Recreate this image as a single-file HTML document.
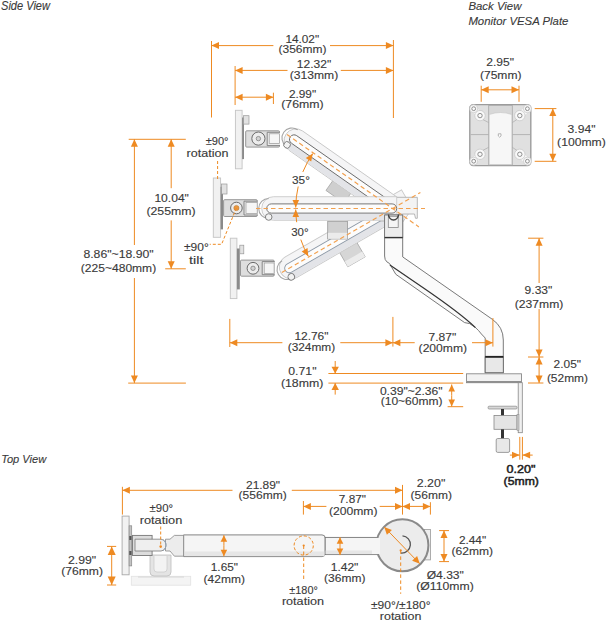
<!DOCTYPE html>
<html><head><meta charset="utf-8"><style>
html,body{margin:0;padding:0;background:#fff;}
svg{display:block;}
text{font-family:"Liberation Sans",sans-serif;}
</style></head><body>
<svg width="606" height="621" viewBox="0 0 606 621">
<rect width="606" height="621" fill="#fff"/>
<g transform="translate(339,191) rotate(35)"><rect x="-11" y="-7" width="22" height="14" fill="#cfcfcf" stroke="#aaa" stroke-width="0.8"/></g>
<g transform="translate(352,254) rotate(-30)"><rect x="-10" y="-9" width="20" height="18" fill="#d6d6d6" stroke="#aaa" stroke-width="0.8"/><rect x="-10" y="3" width="20" height="6" fill="#ececec" stroke="none"/></g>
<g transform="translate(392.7,208.5) rotate(-30)">
<path d="M-117.2,-11.8 L17,-11.8 L17,11.8 L-117.2,11.8 A11.8,11.8 0 0 1 -117.2,-11.8 Z" fill="#f5f5f6" stroke="#c9c9c9" stroke-width="0.9"/>
<rect x="-121" y="5" width="131" height="6.4" fill="#e3e4e8" stroke="none"/>
<path d="M-122,-10 A10,10 0 0 0 -122,10" fill="none" stroke="#a5a5a5" stroke-width="1.1"/>
<circle cx="-122" cy="8.5" r="3.3" fill="#f2f2f2" stroke="#777" stroke-width="0.9"/>
<rect x="-124" y="-4.6" width="128" height="9.2" rx="4.6" fill="#fcfcfc" stroke="#8c98a6" stroke-width="0.9"/>

</g>
<g transform="translate(392.7,208.5) rotate(35)">
<path d="M-118.2,-11.8 L16,-11.8 L16,11.8 L-118.2,11.8 A11.8,11.8 0 0 1 -118.2,-11.8 Z" fill="#f5f5f6" stroke="#c9c9c9" stroke-width="0.9"/>
<rect x="-122" y="5" width="132" height="6.4" fill="#e3e4e8" stroke="none"/>
<path d="M-123,-10 A10,10 0 0 0 -123,10" fill="none" stroke="#a5a5a5" stroke-width="1.1"/>
<circle cx="-123" cy="8.5" r="3.3" fill="#f2f2f2" stroke="#777" stroke-width="0.9"/>
<rect x="-125" y="-4.6" width="129" height="9.2" rx="4.6" fill="#fcfcfc" stroke="#6a6a6a" stroke-width="0.9"/>

</g>
<path d="M380,197.3 L417.3,197.3 L417.3,218.3 L415.5,218.3 L414.5,214 L398,214 L396,221 L380,221 Z" fill="#f3f3f3" stroke="#b0b0b0" stroke-width="0.9"/>
<g transform="translate(392.7,208.5) rotate(0)">
<path d="M-119.2,-11.8 L4,-11.8 L4,11.8 L-119.2,11.8 A11.8,11.8 0 0 1 -119.2,-11.8 Z" fill="#f5f5f6" stroke="#c9c9c9" stroke-width="0.9"/>
<rect x="-123" y="5" width="133" height="6.4" fill="#e3e4e8" stroke="none"/>
<path d="M-124,-10 A10,10 0 0 0 -124,10" fill="none" stroke="#a5a5a5" stroke-width="1.1"/>
<circle cx="-124" cy="8.5" r="3.3" fill="#f2f2f2" stroke="#777" stroke-width="0.9"/>
<rect x="-126" y="-4.6" width="130" height="9.2" rx="4.6" fill="#fcfcfc" stroke="#6a6a6a" stroke-width="0.9"/>

</g>
<rect x="327.7" y="221.3" width="19.8" height="17.7" fill="#d0d0d0" stroke="#999" stroke-width="0.8"/><rect x="328" y="232.8" width="19.2" height="6" fill="#ebebeb"/>
<path d="M384.6,215 L402.7,215 L402.7,256.9 L492.3,319.3 Q503.3,327 503.3,340 L503.3,372.7 L485.2,372.7 L485.2,338 L481.4,334 L478.5,330.5 L475.5,327.6 L469.6,323.6 L464.6,322.6 L395.8,274.3 L389.4,263.4 L386.9,261.9 Q384.6,260 384.6,256 Z" fill="#fafafa" stroke="#6a6a6a" stroke-width="0.9"/>
<path d="M389.9,264.9 L425,289 Q460,313 475.5,327.6" fill="none" stroke="#333" stroke-width="1.2"/>
<rect x="384.6" y="215" width="18.1" height="22.4" fill="#ececec" stroke="#777" stroke-width="0.9"/>
<rect x="388.3" y="216.3" width="9.9" height="11.2" fill="#f5f5f5" stroke="#888" stroke-width="0.8"/>
<line x1="384.6" y1="237.6" x2="402.7" y2="237.6" stroke="#333" stroke-width="1.4"/>
<path d="M388.5,214.5 A5,5.5 0 0 0 398.5,214.5" fill="none" stroke="#444" stroke-width="1.4"/>
<rect x="485.2" y="357" width="18.1" height="15.7" fill="#e8e8e8" stroke="#6a6a6a" stroke-width="0.9"/>
<line x1="485.2" y1="356.8" x2="503.3" y2="356.8" stroke="#222" stroke-width="1.8"/>
<rect x="466.5" y="373.8" width="55" height="8.9" fill="#f2f2f2" stroke="#888" stroke-width="0.9"/>
<line x1="467" y1="381.8" x2="521" y2="381.8" stroke="#666" stroke-width="1"/>
<rect x="518.2" y="382.7" width="4.1" height="50" fill="#f0f0f0" stroke="#888" stroke-width="0.8"/>
<rect x="488.1" y="406.2" width="28.9" height="2.8" rx="1" fill="#d8d8d8" stroke="#888" stroke-width="0.7"/>
<rect x="501" y="409" width="3" height="7" fill="#333"/>
<rect x="494" y="415.4" width="23" height="13.9" fill="#e4e4e4" stroke="#888" stroke-width="0.8"/>
<rect x="517" y="414.5" width="2" height="16" fill="#ccc" stroke="#888" stroke-width="0.5"/>
<rect x="501" y="429.3" width="3" height="9.5" fill="#333"/>
<rect x="496.2" y="438.5" width="13.4" height="13.9" rx="1.5" fill="#e8e8e8" stroke="#888" stroke-width="0.8"/>
<rect x="235.4" y="110.3" width="6.699999999999989" height="58.500000000000014" fill="#f1f1f1" stroke="#c4c4c4" stroke-width="0.9"/>
<rect x="242.1" y="117.5" width="1.9000000000000057" height="41.599999999999994" fill="#8a8a8a" stroke="none"/>
<rect x="243.5" y="115.7" width="5.5" height="8.399999999999991" fill="#e2e2e2" stroke="#999" stroke-width="0.7"/>
<rect x="245.7" y="130.8" width="33.80000000000001" height="16.299999999999983" rx="1" fill="#dedede" stroke="#8c8c8c" stroke-width="0.9"/>
<path d="M280.0,132.3 L267.2,132.3 L267.2,145.6 L280.0,145.6" fill="#ececec" stroke="#7a7a7a" stroke-width="0.9"/>
<rect x="269.2" y="133.8" width="10.300000000000011" height="9.599999999999994" fill="#f6f6f6" stroke="#9a9a9a" stroke-width="0.7"/>
<circle cx="258.4" cy="138.6" r="6.6" fill="#ececec" stroke="#6a6a6a" stroke-width="1"/>
<circle cx="258.4" cy="138.6" r="2.2" fill="#d2d2d2" stroke="#666" stroke-width="0.6"/>
<rect x="213.3" y="178" width="7.299999999999983" height="59.30000000000001" fill="#f1f1f1" stroke="#c4c4c4" stroke-width="0.9"/>
<rect x="220.6" y="186.8" width="2.4000000000000057" height="42.599999999999994" fill="#8a8a8a" stroke="none"/>
<rect x="221.5" y="184" width="5.5" height="10" fill="#e2e2e2" stroke="#999" stroke-width="0.7"/>
<rect x="223.6" y="199.7" width="33.599999999999994" height="16.80000000000001" rx="1" fill="#dedede" stroke="#8c8c8c" stroke-width="0.9"/>
<path d="M257.7,201.2 L244,201.2 L244,215.0 L257.7,215.0" fill="#ececec" stroke="#7a7a7a" stroke-width="0.9"/>
<rect x="246" y="202.5" width="11.199999999999989" height="11.0" fill="#f6f6f6" stroke="#9a9a9a" stroke-width="0.7"/>
<circle cx="236.4" cy="208" r="5.8" fill="#ececec" stroke="#6a6a6a" stroke-width="1"/>
<circle cx="236.4" cy="208" r="2.6" fill="#e9963e" stroke="#b87428" stroke-width="0.5"/>
<rect x="230.3" y="238.2" width="6.599999999999994" height="60.400000000000034" fill="#f1f1f1" stroke="#c4c4c4" stroke-width="0.9"/>
<rect x="236.9" y="248.5" width="2.9000000000000057" height="40.89999999999998" fill="#8a8a8a" stroke="none"/>
<rect x="239.8" y="245.2" width="4.0" height="8.600000000000023" fill="#e2e2e2" stroke="#999" stroke-width="0.7"/>
<rect x="240.5" y="260.1" width="33.60000000000002" height="16.099999999999966" rx="1" fill="#dedede" stroke="#8c8c8c" stroke-width="0.9"/>
<path d="M274.6,261.6 L262.2,261.6 L262.2,274.7 L274.6,274.7" fill="#ececec" stroke="#7a7a7a" stroke-width="0.9"/>
<rect x="264.2" y="263" width="9.900000000000034" height="10.600000000000023" fill="#f6f6f6" stroke="#9a9a9a" stroke-width="0.7"/>
<circle cx="253" cy="268.3" r="5.9" fill="#ececec" stroke="#6a6a6a" stroke-width="1"/>
<circle cx="253" cy="268.3" r="2.2" fill="#d2d2d2" stroke="#666" stroke-width="0.6"/>
<line x1="256" y1="208.5" x2="425" y2="208.5" stroke="#F2A04E" stroke-width="1.2" stroke-dasharray="4.5,3"/>
<line x1="287.0" y1="134.5" x2="418.9" y2="226.9" stroke="#F2A04E" stroke-width="1.2" stroke-dasharray="4.5,3"/>
<line x1="281.8" y1="272.5" x2="420.4" y2="192.5" stroke="#F2A04E" stroke-width="1.2" stroke-dasharray="4.5,3"/>
<polyline points="236.4,208 221.6,244.3 209.7,244.3" fill="none" stroke="#EE8A22" stroke-width="1" stroke-dasharray="3,2"/>
<line x1="217.6" y1="161" x2="217.6" y2="181" stroke="#EE8A22" stroke-width="1" stroke-dasharray="3,2"/>
<path d="M302.8,172.0 A97,97 0 0 1 312.8,153.6" fill="none" stroke="#EE8A22" stroke-width="1"/>
<polygon points="312.8,153.6 311.2,161.6 305.8,157.9" fill="#EE8A22"/>
<path d="M298.2,186.5 A97,97 0 0 0 295.7,207.5" fill="none" stroke="#EE8A22" stroke-width="1"/>
<polygon points="295.7,207.5 292.5,200.0 299.1,200.0" fill="#EE8A22"/>
<path d="M295.7,209.5 A97,97 0 0 0 296.7,222.2" fill="none" stroke="#EE8A22" stroke-width="1"/>
<polygon points="295.7,209.5 299.1,217.0 292.5,217.0" fill="#EE8A22"/>
<path d="M300.8,239.6 A97,97 0 0 0 308.3,256.3" fill="none" stroke="#EE8A22" stroke-width="1"/>
<polygon points="308.3,256.3 301.7,251.4 307.5,248.1" fill="#EE8A22"/>
<rect x="131.3" y="576.3" width="59.4" height="8.9" fill="#f4f4f4" stroke="#e2e2e2" stroke-width="0.8"/><line x1="138" y1="577" x2="184" y2="577" stroke="#d0d0d0" stroke-width="0.8"/>
<path d="M150,555 L150,572 Q150,576 154,576 L167,576 Q171,576 171,572 L171,555 Z" fill="#e4e4e4" stroke="#bdbdbd" stroke-width="0.8"/>
<path d="M154,556 L154,569 Q154,572 157,572 L164,572 Q167,572 167,569 L167,556" fill="#f3f3f3" stroke="#c8c8c8" stroke-width="0.7"/>
<rect x="122.1" y="516.1" width="7" height="58.7" fill="#f2f2f2" stroke="#a8a8a8" stroke-width="0.9"/>
<rect x="129.1" y="525.8" width="2.6" height="40.1" fill="#c4c4c4" stroke="#888" stroke-width="0.7"/>
<rect x="132.5" y="535.4" width="19.6" height="20.1" fill="#dcdcdc" stroke="#777" stroke-width="0.9"/><rect x="129.3" y="536" width="2.2" height="4" fill="#555"/><rect x="129.3" y="551" width="2.2" height="4" fill="#555"/>
<path d="M183.6,534.9 L322,534.9 Q325.2,534.9 325.2,538 L325.2,553.5 Q325.2,556.6 322,556.6 L183.6,556.6 Z" fill="#f5f5f5" stroke="#777" stroke-width="0.9"/>
<rect x="184.2" y="551.5" width="140.5" height="4.6" fill="#e6e6e6"/>
<path d="M165.5,539.2 L170,539.2 L174.4,535.4 L183.6,535.4 L183.6,556.2 L174.4,556.2 L170,551 L165.5,551 Z" fill="#ececec" stroke="#888" stroke-width="0.8"/>
<path d="M135,539.2 L161,539.2 A6,6 0 0 1 161,551 L135,551 Z" fill="#efefef" stroke="#7a7a7a" stroke-width="0.8"/><path d="M163,539.6 A6.5,6.5 0 0 1 163,550.6" fill="none" stroke="#8fa3b8" stroke-width="0.9"/>
<rect x="325.2" y="537.4" width="54" height="17.2" fill="#f5f5f5" stroke="#777" stroke-width="0.9"/>
<rect x="325.7" y="550.5" width="53" height="3.6" fill="#e6e6e6"/>
<rect x="424.3" y="529.5" width="6.1" height="30.4" fill="#eeeeee" stroke="#999" stroke-width="0.8"/>
<circle cx="402.4" cy="545.3" r="26" fill="#ececec" stroke="#8a8a8a" stroke-width="2"/>
<rect x="372" y="538" width="8" height="16" fill="#f5f5f5"/>
<path d="M402.5,535.8 A8.5,8.5 0 1 1 401,553" fill="none" stroke="#555" stroke-width="1.3"/>
<circle cx="303.7" cy="545.5" r="9.6" fill="none" stroke="#EE8A22" stroke-width="1" stroke-dasharray="3,2"/>
<line x1="303.7" y1="545.5" x2="303.7" y2="581.4" stroke="#EE8A22" stroke-width="1" stroke-dasharray="3.5,2.5"/>
<line x1="400.7" y1="550.4" x2="400.7" y2="593.8" stroke="#EE8A22" stroke-width="1" stroke-dasharray="3.5,2.5"/>
<line x1="160.7" y1="526.5" x2="160.7" y2="546.6" stroke="#EE8A22" stroke-width="1" stroke-dasharray="3,2"/>
<circle cx="160.7" cy="546.6" r="1.3" fill="#EE8A22"/>
<circle cx="303.7" cy="545.5" r="1.1" fill="#EE8A22"/>
<circle cx="400.7" cy="550.4" r="1.1" fill="#EE8A22"/>
<text x="1" y="10" font-size="12" textLength="49.0" lengthAdjust="spacingAndGlyphs" font-style="italic" fill="#3a3a3a" stroke="#3a3a3a" stroke-width="0.12">Side View</text>
<text x="468.4" y="9.6" font-size="11.5" textLength="53.0" lengthAdjust="spacingAndGlyphs" font-style="italic" fill="#3a3a3a" stroke="#3a3a3a" stroke-width="0.12">Back View</text>
<text x="468.4" y="24.8" font-size="11.5" textLength="100.0" lengthAdjust="spacingAndGlyphs" font-style="italic" fill="#3a3a3a" stroke="#3a3a3a" stroke-width="0.12">Monitor VESA Plate</text>
<text x="1.2" y="462.5" font-size="11.5" textLength="45.0" lengthAdjust="spacingAndGlyphs" font-style="italic" fill="#3a3a3a" stroke="#3a3a3a" stroke-width="0.12">Top View</text>
<line x1="211.5" y1="41" x2="211.5" y2="117.5" stroke="#EE8A22" stroke-width="1"/>
<line x1="273.4" y1="45.6" x2="211.5" y2="45.6" stroke="#EE8A22" stroke-width="1"/>
<polygon points="211.5,45.6 219.0,42.1 219.0,49.1" fill="#EE8A22"/>
<line x1="330" y1="45.6" x2="393.4" y2="45.6" stroke="#EE8A22" stroke-width="1"/>
<polygon points="393.4,45.6 385.9,49.1 385.9,42.1" fill="#EE8A22"/>
<line x1="393.4" y1="40" x2="393.4" y2="118" stroke="#EE8A22" stroke-width="1"/>
<line x1="235.1" y1="66" x2="235.1" y2="105" stroke="#EE8A22" stroke-width="1"/>
<line x1="287.5" y1="70.4" x2="235.1" y2="70.4" stroke="#EE8A22" stroke-width="1"/>
<polygon points="235.1,70.4 242.6,66.9 242.6,73.9" fill="#EE8A22"/>
<line x1="340.8" y1="70.4" x2="393.4" y2="70.4" stroke="#EE8A22" stroke-width="1"/>
<polygon points="393.4,70.4 385.9,73.9 385.9,66.9" fill="#EE8A22"/>
<line x1="235.1" y1="97.2" x2="273.4" y2="97.2" stroke="#EE8A22" stroke-width="1"/>
<polygon points="273.4,97.2 265.9,100.7 265.9,93.7" fill="#EE8A22"/>
<polygon points="235.1,97.2 242.6,93.7 242.6,100.7" fill="#EE8A22"/>
<line x1="273.4" y1="92.7" x2="273.4" y2="104" stroke="#EE8A22" stroke-width="1"/>
<text x="285.4" y="42.7" font-size="11" textLength="33.7" lengthAdjust="spacingAndGlyphs" fill="#3a3a3a" stroke="#3a3a3a" stroke-width="0.12">14.02"</text>
<text x="278.5" y="53" font-size="11" textLength="48.0" lengthAdjust="spacingAndGlyphs" fill="#3a3a3a" stroke="#3a3a3a" stroke-width="0.12">(356mm)</text>
<text x="296.8" y="68.2" font-size="11" textLength="34.4" lengthAdjust="spacingAndGlyphs" fill="#3a3a3a" stroke="#3a3a3a" stroke-width="0.12">12.32"</text>
<text x="289.7" y="78.9" font-size="11" textLength="48.5" lengthAdjust="spacingAndGlyphs" fill="#3a3a3a" stroke="#3a3a3a" stroke-width="0.12">(313mm)</text>
<text x="288.9" y="97.6" font-size="11" textLength="27.2" lengthAdjust="spacingAndGlyphs" fill="#3a3a3a" stroke="#3a3a3a" stroke-width="0.12">2.99"</text>
<text x="281.2" y="108.3" font-size="11" textLength="42.4" lengthAdjust="spacingAndGlyphs" fill="#3a3a3a" stroke="#3a3a3a" stroke-width="0.12">(76mm)</text>
<line x1="481.2" y1="85.7" x2="481.2" y2="101.8" stroke="#EE8A22" stroke-width="1"/>
<line x1="519" y1="85.7" x2="519" y2="101.8" stroke="#EE8A22" stroke-width="1"/>
<line x1="481.2" y1="89.8" x2="519" y2="89.8" stroke="#EE8A22" stroke-width="1"/>
<polygon points="519.0,89.8 511.5,93.3 511.5,86.3" fill="#EE8A22"/>
<polygon points="481.2,89.8 488.7,86.3 488.7,93.3" fill="#EE8A22"/>
<text x="486.3" y="65.8" font-size="11" textLength="27.7" lengthAdjust="spacingAndGlyphs" fill="#3a3a3a" stroke="#3a3a3a" stroke-width="0.12">2.95"</text>
<text x="479.9" y="78.7" font-size="11" textLength="41.6" lengthAdjust="spacingAndGlyphs" fill="#3a3a3a" stroke="#3a3a3a" stroke-width="0.12">(75mm)</text>
<line x1="534.7" y1="108.6" x2="556.4" y2="108.6" stroke="#EE8A22" stroke-width="1"/>
<line x1="534.7" y1="161.3" x2="556.4" y2="161.3" stroke="#EE8A22" stroke-width="1"/>
<line x1="552.8" y1="108.6" x2="552.8" y2="161.3" stroke="#EE8A22" stroke-width="1"/>
<polygon points="552.8,161.3 549.3,153.8 556.3,153.8" fill="#EE8A22"/>
<polygon points="552.8,108.6 556.3,116.1 549.3,116.1" fill="#EE8A22"/>
<text x="567.6" y="133" font-size="11" textLength="27.9" lengthAdjust="spacingAndGlyphs" fill="#3a3a3a" stroke="#3a3a3a" stroke-width="0.12">3.94"</text>
<text x="557.1" y="145.5" font-size="11" textLength="48.7" lengthAdjust="spacingAndGlyphs" fill="#3a3a3a" stroke="#3a3a3a" stroke-width="0.12">(100mm)</text>
<g>
<rect x="469.8" y="104.6" width="61" height="61" rx="3.5" fill="#e0e0e0" stroke="#9c9c9c" stroke-width="1.4"/>
<line x1="470.5" y1="134.6" x2="530" y2="134.6" stroke="#b4b4b4" stroke-width="1"/>
<rect x="488.7" y="105.5" width="23.6" height="59.5" fill="#d8d8d8" stroke="#a8a8a8" stroke-width="0.8"/>
<path d="M489.2,164.5 L489.2,114.5 Q500.5,110.5 511.8,114.5 L511.8,164.5 Z" fill="#f7f7f7" stroke="#c4c4c4" stroke-width="0.6"/>
<line x1="473.7" y1="108.7" x2="480" y2="115.6" stroke="#f8f8f8" stroke-width="6"/>
<circle cx="480" cy="115.6" r="5.2" fill="#f8f8f8" stroke="#c4c4c4" stroke-width="0.7"/>
<circle cx="473.7" cy="108.7" r="4" fill="#f8f8f8" stroke="#c4c4c4" stroke-width="0.7"/>
<circle cx="480" cy="115.6" r="2.2" fill="#fafafa" stroke="#777" stroke-width="0.8"/>
<circle cx="473.7" cy="108.7" r="1.9" fill="#fafafa" stroke="#777" stroke-width="0.8"/>
<line x1="483" y1="119.6" x2="488.7" y2="122.6" stroke="#aaa" stroke-width="0.7"/>
<line x1="527.4" y1="108.7" x2="519.8" y2="115.6" stroke="#f8f8f8" stroke-width="6"/>
<circle cx="519.8" cy="115.6" r="5.2" fill="#f8f8f8" stroke="#c4c4c4" stroke-width="0.7"/>
<circle cx="527.4" cy="108.7" r="4" fill="#f8f8f8" stroke="#c4c4c4" stroke-width="0.7"/>
<circle cx="519.8" cy="115.6" r="2.2" fill="#fafafa" stroke="#777" stroke-width="0.8"/>
<circle cx="527.4" cy="108.7" r="1.9" fill="#fafafa" stroke="#777" stroke-width="0.8"/>
<line x1="516.8" y1="119.6" x2="512.3" y2="122.6" stroke="#aaa" stroke-width="0.7"/>
<line x1="473.7" y1="161.2" x2="480" y2="154.3" stroke="#f8f8f8" stroke-width="6"/>
<circle cx="480" cy="154.3" r="5.2" fill="#f8f8f8" stroke="#c4c4c4" stroke-width="0.7"/>
<circle cx="473.7" cy="161.2" r="4" fill="#f8f8f8" stroke="#c4c4c4" stroke-width="0.7"/>
<circle cx="480" cy="154.3" r="2.2" fill="#fafafa" stroke="#777" stroke-width="0.8"/>
<circle cx="473.7" cy="161.2" r="1.9" fill="#fafafa" stroke="#777" stroke-width="0.8"/>
<line x1="483" y1="150.3" x2="488.7" y2="147.3" stroke="#aaa" stroke-width="0.7"/>
<line x1="527.4" y1="161.2" x2="519.8" y2="154.3" stroke="#f8f8f8" stroke-width="6"/>
<circle cx="519.8" cy="154.3" r="5.2" fill="#f8f8f8" stroke="#c4c4c4" stroke-width="0.7"/>
<circle cx="527.4" cy="161.2" r="4" fill="#f8f8f8" stroke="#c4c4c4" stroke-width="0.7"/>
<circle cx="519.8" cy="154.3" r="2.2" fill="#fafafa" stroke="#777" stroke-width="0.8"/>
<circle cx="527.4" cy="161.2" r="1.9" fill="#fafafa" stroke="#777" stroke-width="0.8"/>
<line x1="516.8" y1="150.3" x2="512.3" y2="147.3" stroke="#aaa" stroke-width="0.7"/>
<path d="M498.3,133.8 L501,133.8 L501,136 L499.65,137.2 L498.3,136 Z" fill="#fff" stroke="#888" stroke-width="0.6"/>
</g>
<line x1="128.7" y1="139.3" x2="185.8" y2="139.3" stroke="#EE8A22" stroke-width="1"/>
<line x1="134.4" y1="245" x2="134.4" y2="139.3" stroke="#EE8A22" stroke-width="1"/>
<polygon points="134.4,139.3 137.9,146.8 130.9,146.8" fill="#EE8A22"/>
<line x1="134.4" y1="278" x2="134.4" y2="383.1" stroke="#EE8A22" stroke-width="1"/>
<polygon points="134.4,383.1 130.9,375.6 137.9,375.6" fill="#EE8A22"/>
<line x1="128.2" y1="383.1" x2="185.9" y2="383.1" stroke="#EE8A22" stroke-width="1"/>
<line x1="171.2" y1="188.2" x2="171.2" y2="139.3" stroke="#EE8A22" stroke-width="1"/>
<polygon points="171.2,139.3 174.7,146.8 167.7,146.8" fill="#EE8A22"/>
<line x1="171.2" y1="220.4" x2="171.2" y2="268.8" stroke="#EE8A22" stroke-width="1"/>
<polygon points="171.2,268.8 167.7,261.3 174.7,261.3" fill="#EE8A22"/>
<line x1="165.2" y1="268.8" x2="185.8" y2="268.8" stroke="#EE8A22" stroke-width="1"/>
<text x="154.4" y="202.4" font-size="11" textLength="34.5" lengthAdjust="spacingAndGlyphs" fill="#3a3a3a" stroke="#3a3a3a" stroke-width="0.12">10.04"</text>
<text x="146.4" y="215.2" font-size="11" textLength="49.2" lengthAdjust="spacingAndGlyphs" fill="#3a3a3a" stroke="#3a3a3a" stroke-width="0.12">(255mm)</text>
<text x="83.4" y="258.3" font-size="11" textLength="70.3" lengthAdjust="spacingAndGlyphs" fill="#3a3a3a" stroke="#3a3a3a" stroke-width="0.12">8.86"~18.90"</text>
<text x="80.8" y="271.5" font-size="11" textLength="75.4" lengthAdjust="spacingAndGlyphs" fill="#3a3a3a" stroke="#3a3a3a" stroke-width="0.12">(225~480mm)</text>
<text x="205.7" y="144.5" font-size="11" textLength="22.8" lengthAdjust="spacingAndGlyphs" fill="#3a3a3a" stroke="#3a3a3a" stroke-width="0.12">±90°</text>
<text x="186.6" y="156.9" font-size="11" textLength="41.9" lengthAdjust="spacingAndGlyphs" fill="#3a3a3a" stroke="#3a3a3a" stroke-width="0.12">rotation</text>
<text x="184" y="251.2" font-size="11" textLength="24.7" lengthAdjust="spacingAndGlyphs" fill="#3a3a3a" stroke="#3a3a3a" stroke-width="0.12">±90°</text>
<text x="189" y="264" font-size="11" textLength="14.4" lengthAdjust="spacingAndGlyphs" fill="#3a3a3a" stroke="#3a3a3a" stroke-width="0.12">tilt</text>
<text x="292" y="183.6" font-size="11" textLength="17.9" lengthAdjust="spacingAndGlyphs" fill="#3a3a3a" stroke="#3a3a3a" stroke-width="0.12">35°</text>
<text x="291.2" y="236.1" font-size="11" textLength="17.4" lengthAdjust="spacingAndGlyphs" fill="#3a3a3a" stroke="#3a3a3a" stroke-width="0.12">30°</text>
<line x1="229.8" y1="318.9" x2="229.8" y2="347" stroke="#EE8A22" stroke-width="1"/>
<line x1="282.4" y1="342.7" x2="229.8" y2="342.7" stroke="#EE8A22" stroke-width="1"/>
<polygon points="229.8,342.7 237.3,339.2 237.3,346.2" fill="#EE8A22"/>
<line x1="340.3" y1="342.7" x2="392.9" y2="342.7" stroke="#EE8A22" stroke-width="1"/>
<polygon points="392.9,342.7 385.4,346.2 385.4,339.2" fill="#EE8A22"/>
<line x1="392.9" y1="316.9" x2="392.9" y2="346.6" stroke="#EE8A22" stroke-width="1"/>
<line x1="414.7" y1="342.7" x2="392.9" y2="342.7" stroke="#EE8A22" stroke-width="1"/>
<polygon points="392.9,342.7 400.4,339.2 400.4,346.2" fill="#EE8A22"/>
<line x1="472" y1="342.7" x2="492.9" y2="342.7" stroke="#EE8A22" stroke-width="1"/>
<polygon points="492.9,342.7 485.4,346.2 485.4,339.2" fill="#EE8A22"/>
<line x1="492.9" y1="318" x2="492.9" y2="346.6" stroke="#EE8A22" stroke-width="1"/>
<text x="294.4" y="339.7" font-size="11" textLength="34.1" lengthAdjust="spacingAndGlyphs" fill="#3a3a3a" stroke="#3a3a3a" stroke-width="0.12">12.76"</text>
<text x="287.7" y="350.7" font-size="11" textLength="47.5" lengthAdjust="spacingAndGlyphs" fill="#3a3a3a" stroke="#3a3a3a" stroke-width="0.12">(324mm)</text>
<text x="428.5" y="340.7" font-size="11" textLength="27.7" lengthAdjust="spacingAndGlyphs" fill="#3a3a3a" stroke="#3a3a3a" stroke-width="0.12">7.87"</text>
<text x="418.6" y="351.6" font-size="11" textLength="48.5" lengthAdjust="spacingAndGlyphs" fill="#3a3a3a" stroke="#3a3a3a" stroke-width="0.12">(200mm)</text>
<line x1="328.4" y1="373.5" x2="463.2" y2="373.5" stroke="#EE8A22" stroke-width="1"/>
<line x1="328.4" y1="383.1" x2="463.2" y2="383.1" stroke="#EE8A22" stroke-width="1"/>
<line x1="447.6" y1="406.7" x2="463.2" y2="406.7" stroke="#EE8A22" stroke-width="1"/>
<line x1="335.2" y1="361" x2="335.2" y2="373.5" stroke="#EE8A22" stroke-width="1"/>
<polygon points="335.2,373.5 331.5,366.7 338.9,366.7" fill="#EE8A22"/>
<line x1="335.2" y1="394.6" x2="335.2" y2="383.1" stroke="#EE8A22" stroke-width="1"/>
<polygon points="335.2,383.1 338.9,389.9 331.5,389.9" fill="#EE8A22"/>
<line x1="451.7" y1="395.5" x2="451.7" y2="384.5" stroke="#EE8A22" stroke-width="1"/>
<polygon points="451.7,384.5 455.0,391.5 448.4,391.5" fill="#EE8A22"/>
<line x1="451.7" y1="395.5" x2="451.7" y2="406.5" stroke="#EE8A22" stroke-width="1"/>
<polygon points="451.7,406.5 448.4,399.5 455.0,399.5" fill="#EE8A22"/>
<text x="288.3" y="374.7" font-size="11" textLength="28.2" lengthAdjust="spacingAndGlyphs" fill="#3a3a3a" stroke="#3a3a3a" stroke-width="0.12">0.71"</text>
<text x="280.9" y="386.6" font-size="11" textLength="42.5" lengthAdjust="spacingAndGlyphs" fill="#3a3a3a" stroke="#3a3a3a" stroke-width="0.12">(18mm)</text>
<text x="379.9" y="394.7" font-size="11" textLength="62.7" lengthAdjust="spacingAndGlyphs" fill="#3a3a3a" stroke="#3a3a3a" stroke-width="0.12">0.39"~2.36"</text>
<text x="380.7" y="405" font-size="11" textLength="61.9" lengthAdjust="spacingAndGlyphs" fill="#3a3a3a" stroke="#3a3a3a" stroke-width="0.12">(10~60mm)</text>
<line x1="528.1" y1="238.2" x2="543.4" y2="238.2" stroke="#EE8A22" stroke-width="1"/>
<line x1="539.1" y1="283" x2="539.1" y2="238.2" stroke="#EE8A22" stroke-width="1"/>
<polygon points="539.1,238.2 542.6,245.7 535.6,245.7" fill="#EE8A22"/>
<line x1="539.1" y1="309" x2="539.1" y2="357" stroke="#EE8A22" stroke-width="1"/>
<polygon points="539.1,357.0 535.6,349.5 542.6,349.5" fill="#EE8A22"/>
<line x1="528" y1="357" x2="543.4" y2="357" stroke="#EE8A22" stroke-width="1"/>
<line x1="539.1" y1="370" x2="539.1" y2="357" stroke="#EE8A22" stroke-width="1"/>
<polygon points="539.1,357.0 542.6,364.5 535.6,364.5" fill="#EE8A22"/>
<line x1="539.1" y1="370" x2="539.1" y2="383" stroke="#EE8A22" stroke-width="1"/>
<polygon points="539.1,383.0 535.6,375.5 542.6,375.5" fill="#EE8A22"/>
<line x1="528" y1="383" x2="543.4" y2="383" stroke="#EE8A22" stroke-width="1"/>
<text x="524.6" y="294.4" font-size="11" textLength="27.7" lengthAdjust="spacingAndGlyphs" fill="#3a3a3a" stroke="#3a3a3a" stroke-width="0.12">9.33"</text>
<text x="514.8" y="307.7" font-size="11" textLength="48.5" lengthAdjust="spacingAndGlyphs" fill="#3a3a3a" stroke="#3a3a3a" stroke-width="0.12">(237mm)</text>
<text x="553.6" y="368.3" font-size="11" textLength="27.4" lengthAdjust="spacingAndGlyphs" fill="#3a3a3a" stroke="#3a3a3a" stroke-width="0.12">2.05"</text>
<text x="546.9" y="381.7" font-size="11" textLength="41.1" lengthAdjust="spacingAndGlyphs" fill="#3a3a3a" stroke="#3a3a3a" stroke-width="0.12">(52mm)</text>
<line x1="519.8" y1="436.9" x2="519.8" y2="459.7" stroke="#EE8A22" stroke-width="1"/>
<line x1="522.4" y1="436.9" x2="522.4" y2="459.7" stroke="#EE8A22" stroke-width="1"/>
<line x1="509.9" y1="455.1" x2="519.6" y2="455.1" stroke="#EE8A22" stroke-width="1"/>
<polygon points="519.6,455.1 512.0,458.5 512.0,451.7" fill="#EE8A22"/>
<line x1="532.7" y1="455.1" x2="522.5" y2="455.1" stroke="#EE8A22" stroke-width="1"/>
<polygon points="522.5,455.1 530.1,451.7 530.1,458.5" fill="#EE8A22"/>
<text x="506.6" y="473.2" font-size="11" textLength="28.9" lengthAdjust="spacingAndGlyphs" fill="#222" stroke="#222" stroke-width="0.5">0.20"</text>
<text x="503.6" y="484.9" font-size="11" textLength="35.3" lengthAdjust="spacingAndGlyphs" fill="#222" stroke="#222" stroke-width="0.5">(5mm)</text>
<line x1="122.4" y1="486.8" x2="122.4" y2="514.6" stroke="#EE8A22" stroke-width="1"/>
<line x1="232.5" y1="490.3" x2="122.4" y2="490.3" stroke="#EE8A22" stroke-width="1"/>
<polygon points="122.4,490.3 129.9,486.8 129.9,493.8" fill="#EE8A22"/>
<line x1="291.8" y1="490.3" x2="402.5" y2="490.3" stroke="#EE8A22" stroke-width="1"/>
<polygon points="402.5,490.3 395.0,493.8 395.0,486.8" fill="#EE8A22"/>
<line x1="402.5" y1="484.9" x2="402.5" y2="514.6" stroke="#EE8A22" stroke-width="1"/>
<line x1="303.4" y1="501" x2="303.4" y2="514.6" stroke="#EE8A22" stroke-width="1"/>
<line x1="326.4" y1="506.4" x2="303.4" y2="506.4" stroke="#EE8A22" stroke-width="1"/>
<polygon points="303.4,506.4 310.9,502.9 310.9,509.9" fill="#EE8A22"/>
<line x1="379.7" y1="506.4" x2="402.5" y2="506.4" stroke="#EE8A22" stroke-width="1"/>
<polygon points="402.5,506.4 395.0,509.9 395.0,502.9" fill="#EE8A22"/>
<line x1="402.5" y1="506.4" x2="430.4" y2="506.4" stroke="#EE8A22" stroke-width="1"/>
<polygon points="430.4,506.4 422.9,509.9 422.9,502.9" fill="#EE8A22"/>
<polygon points="402.5,506.4 410.0,502.9 410.0,509.9" fill="#EE8A22"/>
<line x1="430.4" y1="502.2" x2="430.4" y2="514.6" stroke="#EE8A22" stroke-width="1"/>
<text x="246" y="488.6" font-size="11" textLength="34.1" lengthAdjust="spacingAndGlyphs" fill="#3a3a3a" stroke="#3a3a3a" stroke-width="0.12">21.89"</text>
<text x="238.6" y="499.2" font-size="11" textLength="48.2" lengthAdjust="spacingAndGlyphs" fill="#3a3a3a" stroke="#3a3a3a" stroke-width="0.12">(556mm)</text>
<text x="338.8" y="503.4" font-size="11" textLength="27.2" lengthAdjust="spacingAndGlyphs" fill="#3a3a3a" stroke="#3a3a3a" stroke-width="0.12">7.87"</text>
<text x="328.9" y="514.6" font-size="11" textLength="48.6" lengthAdjust="spacingAndGlyphs" fill="#3a3a3a" stroke="#3a3a3a" stroke-width="0.12">(200mm)</text>
<text x="416.8" y="487.3" font-size="11" textLength="28.5" lengthAdjust="spacingAndGlyphs" fill="#3a3a3a" stroke="#3a3a3a" stroke-width="0.12">2.20"</text>
<text x="410.6" y="498.5" font-size="11" textLength="41.4" lengthAdjust="spacingAndGlyphs" fill="#3a3a3a" stroke="#3a3a3a" stroke-width="0.12">(56mm)</text>
<line x1="107" y1="546.4" x2="116.2" y2="546.4" stroke="#EE8A22" stroke-width="1"/>
<line x1="107" y1="585" x2="116.2" y2="585" stroke="#EE8A22" stroke-width="1"/>
<line x1="111.7" y1="546.4" x2="111.7" y2="585" stroke="#EE8A22" stroke-width="1"/>
<polygon points="111.7,585.0 107.7,576.5 115.7,576.5" fill="#EE8A22"/>
<polygon points="111.7,546.4 115.7,554.9 107.7,554.9" fill="#EE8A22"/>
<text x="68" y="563.7" font-size="11" textLength="28.2" lengthAdjust="spacingAndGlyphs" fill="#3a3a3a" stroke="#3a3a3a" stroke-width="0.12">2.99"</text>
<text x="61.2" y="574.5" font-size="11" textLength="41.8" lengthAdjust="spacingAndGlyphs" fill="#3a3a3a" stroke="#3a3a3a" stroke-width="0.12">(76mm)</text>
<line x1="223.9" y1="545.7" x2="223.9" y2="535.2" stroke="#EE8A22" stroke-width="1"/>
<polygon points="223.9,535.2 227.2,541.7 220.6,541.7" fill="#EE8A22"/>
<line x1="223.9" y1="545.7" x2="223.9" y2="556.3" stroke="#EE8A22" stroke-width="1"/>
<polygon points="223.9,556.3 220.6,549.8 227.2,549.8" fill="#EE8A22"/>
<text x="210.8" y="570.8" font-size="11" textLength="27.2" lengthAdjust="spacingAndGlyphs" fill="#3a3a3a" stroke="#3a3a3a" stroke-width="0.12">1.65"</text>
<text x="203.6" y="582.6" font-size="11" textLength="41.3" lengthAdjust="spacingAndGlyphs" fill="#3a3a3a" stroke="#3a3a3a" stroke-width="0.12">(42mm)</text>
<text x="149.6" y="512.1" font-size="11" textLength="23.5" lengthAdjust="spacingAndGlyphs" fill="#3a3a3a" stroke="#3a3a3a" stroke-width="0.12">±90°</text>
<text x="139.7" y="524" font-size="11" textLength="42.6" lengthAdjust="spacingAndGlyphs" fill="#3a3a3a" stroke="#3a3a3a" stroke-width="0.12">rotation</text>
<line x1="340" y1="546" x2="340" y2="537.3" stroke="#EE8A22" stroke-width="1"/>
<polygon points="340.0,537.3 343.3,543.8 336.7,543.8" fill="#EE8A22"/>
<line x1="340" y1="546" x2="340" y2="555.1" stroke="#EE8A22" stroke-width="1"/>
<polygon points="340.0,555.1 336.7,548.6 343.3,548.6" fill="#EE8A22"/>
<text x="330.7" y="570.7" font-size="11" textLength="27.7" lengthAdjust="spacingAndGlyphs" fill="#3a3a3a" stroke="#3a3a3a" stroke-width="0.12">1.42"</text>
<text x="324.1" y="582.2" font-size="11" textLength="41.3" lengthAdjust="spacingAndGlyphs" fill="#3a3a3a" stroke="#3a3a3a" stroke-width="0.12">(36mm)</text>
<text x="289.3" y="593.7" font-size="11" textLength="28.5" lengthAdjust="spacingAndGlyphs" fill="#3a3a3a" stroke="#3a3a3a" stroke-width="0.12">±180°</text>
<text x="281.9" y="604.9" font-size="11" textLength="42.1" lengthAdjust="spacingAndGlyphs" fill="#3a3a3a" stroke="#3a3a3a" stroke-width="0.12">rotation</text>
<line x1="439.1" y1="530.6" x2="449" y2="530.6" stroke="#EE8A22" stroke-width="1"/>
<line x1="439.1" y1="561.6" x2="449" y2="561.6" stroke="#EE8A22" stroke-width="1"/>
<line x1="444" y1="530.6" x2="444" y2="561.6" stroke="#EE8A22" stroke-width="1"/>
<polygon points="444.0,561.6 440.5,554.1 447.5,554.1" fill="#EE8A22"/>
<polygon points="444.0,530.6 447.5,538.1 440.5,538.1" fill="#EE8A22"/>
<text x="458.9" y="544.3" font-size="11" textLength="27.2" lengthAdjust="spacingAndGlyphs" fill="#3a3a3a" stroke="#3a3a3a" stroke-width="0.12">2.44"</text>
<text x="451.5" y="555.4" font-size="11" textLength="41.5" lengthAdjust="spacingAndGlyphs" fill="#3a3a3a" stroke="#3a3a3a" stroke-width="0.12">(62mm)</text>
<line x1="384.2" y1="526.9" x2="419.8" y2="563.8" stroke="#EE8A22" stroke-width="1"/>
<polygon points="419.8,563.8 412.1,560.8 417.1,556.0" fill="#EE8A22"/>
<polygon points="384.2,526.9 391.9,529.9 386.9,534.7" fill="#EE8A22"/>
<text x="426.7" y="578.9" font-size="11" textLength="37.2" lengthAdjust="spacingAndGlyphs" fill="#3a3a3a" stroke="#3a3a3a" stroke-width="0.12">Ø4.33"</text>
<text x="416.3" y="590.3" font-size="11" textLength="57.5" lengthAdjust="spacingAndGlyphs" fill="#3a3a3a" stroke="#3a3a3a" stroke-width="0.12">(Ø110mm)</text>
<text x="370.9" y="608.6" font-size="11" textLength="59.7" lengthAdjust="spacingAndGlyphs" fill="#3a3a3a" stroke="#3a3a3a" stroke-width="0.12">±90°/±180°</text>
<text x="379.8" y="619.8" font-size="11" textLength="41.6" lengthAdjust="spacingAndGlyphs" fill="#3a3a3a" stroke="#3a3a3a" stroke-width="0.12">rotation</text>
</svg></body></html>
